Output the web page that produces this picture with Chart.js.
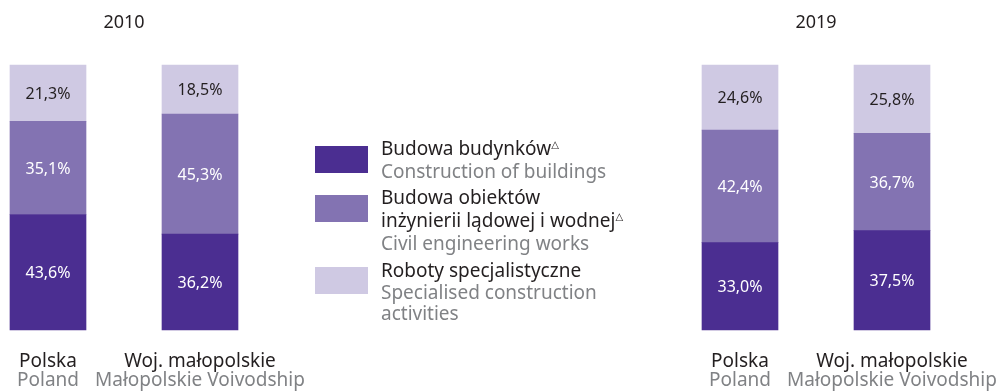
<!DOCTYPE html>
<html><head><meta charset="utf-8">
<script src="https://cdn.jsdelivr.net/npm/chart.js@4"></script>
<style>
html,body{margin:0;padding:0;background:#fff;}
#wrap{position:relative;width:997px;height:391px;overflow:hidden;font-family:"Noto Sans",sans-serif;}
canvas{position:absolute;left:0;top:0;}
.sw{position:absolute;left:315px;width:53px;height:27px;}
.lg{position:absolute;left:381px;font-size:19px;line-height:22px;white-space:nowrap;color:#231F20;}
.lg.en{color:#808285;}
.lg sup{font-size:10px;position:relative;top:-3px;vertical-align:top;font-family:"DejaVu Sans",sans-serif;}
</style></head>
<body>
<div id="wrap">
<canvas id="c2010" width="997" height="391"></canvas>
<canvas id="c2019" width="997" height="391"></canvas>
<div class="sw" style="top:146px;background:#4B2E91"></div>
<div class="sw" style="top:195px;background:#8373B2"></div>
<div class="sw" style="top:267px;background:#CFC9E3"></div>
<div class="lg" style="top:137px">Budowa budynków<sup>△</sup></div>
<div class="lg en" style="top:160px">Construction of buildings</div>
<div class="lg" style="top:186px">Budowa obiektów</div>
<div class="lg" style="top:209px">inżynierii lądowej i wodnej<sup>△</sup></div>
<div class="lg en" style="top:232px">Civil engineering works</div>
<div class="lg" style="top:259px">Roboty specjalistyczne</div>
<div class="lg en" style="top:281px">Specialised construction</div>
<div class="lg en" style="top:302px">activities</div>
</div>
<script>
const categories = ["Polska", "Woj. małopolskie"];
const categoriesEn = ["Poland", "Małopolskie Voivodship"];
const years = ["2010", "2019"];
const seriesNames = ["Budowa budynków", "Budowa obiektów inżynierii lądowej i wodnej", "Roboty specjalistyczne"];
const buildings2010 = [43.6, 36.2];
const civil2010 = [35.1, 45.3];
const specialised2010 = [21.3, 18.5];
const buildings2019 = [33.0, 37.5];
const civil2019 = [42.4, 36.7];
const specialised2019 = [24.6, 25.8];

const colors = ["#4B2E91", "#8373B2", "#CFC9E3"];
const labelColors = ["#FFFFFF", "#FFFFFF", "#231F20"];
const FONT = '"Noto Sans", sans-serif';

const drawPlugin = {
  id: 'drawLabels',
  afterDatasetsDraw(chart, args, opts) {
    const ctx = chart.ctx;
    const xs = chart.scales.x;
    const area = chart.chartArea;
    ctx.save();
    ctx.textAlign = 'center';
    ctx.textBaseline = 'middle';
    ctx.font = '16px ' + FONT;
    chart.data.datasets.forEach((ds, di) => {
      const meta = chart.getDatasetMeta(di);
      meta.data.forEach((el, i) => {
        const v = ds.data[i];
        ctx.fillStyle = labelColors[di];
        ctx.fillText(v.toFixed(1).replace('.', ',') + '%', el.x, (el.y + el.base) / 2 + 1);
      });
    });
    ctx.textBaseline = 'alphabetic';
    ctx.font = '19px ' + FONT;
    categories.forEach((c, i) => {
      const x = xs.getPixelForValue(i);
      ctx.fillStyle = '#231F20';
      ctx.fillText(c, x, 367);
      ctx.fillStyle = '#808285';
      ctx.fillText(categoriesEn[i], x, 386);
    });
    ctx.fillStyle = '#231F20';
    ctx.font = '18px ' + FONT;
    ctx.fillText(opts.year, (area.left + area.right) / 2, 28);
    ctx.restore();
  }
};

function makeChart(id, year, b, c, s, padLeft, padRight) {
  return new Chart(document.getElementById(id), {
    type: 'bar',
    data: {
      labels: categories,
      datasets: [
        { label: seriesNames[0], data: b, backgroundColor: colors[0] },
        { label: seriesNames[1], data: c, backgroundColor: colors[1] },
        { label: seriesNames[2], data: s, backgroundColor: colors[2] }
      ]
    },
    options: {
      responsive: false,
      animation: false,
      devicePixelRatio: 1,
      layout: { padding: { left: padLeft, right: padRight, top: 65, bottom: 61 } },
      datasets: { bar: { barThickness: 76, clip: false, borderWidth: 0 } },
      scales: {
        x: { stacked: true, offset: false, display: false },
        y: { stacked: true, min: 0, max: 100, display: false }
      },
      plugins: {
        legend: { display: false },
        tooltip: { enabled: false },
        drawLabels: { year: year }
      }
    },
    plugins: [drawPlugin]
  });
}

makeChart('c2010', years[0], buildings2010, civil2010, specialised2010, 48, 997 - 200);
makeChart('c2019', years[1], buildings2019, civil2019, specialised2019, 740, 997 - 892);
</script>
</body></html>
